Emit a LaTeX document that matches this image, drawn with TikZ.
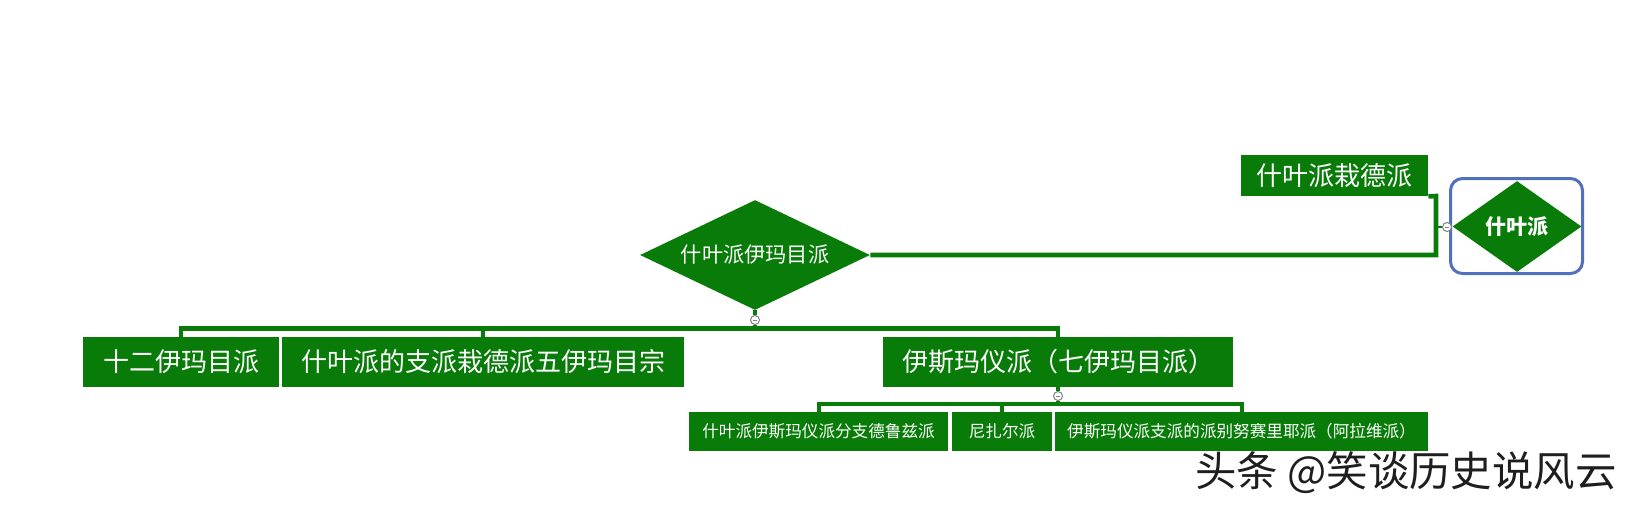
\documentclass[tikz,border=0pt]{standalone}
\usepackage{fontspec}
\newfontfamily\cjk{Noto Sans CJK SC}
\usetikzlibrary{shapes.geometric}
\definecolor{xg}{RGB}{8,123,8}
\definecolor{xb}{RGB}{82,112,188}
\definecolor{wm}{RGB}{30,30,30}
\begin{document}
\begin{tikzpicture}[x=0.5pt,y=-0.5pt,
  box/.style={fill=xg, text=white, inner sep=0pt, minimum height=25pt, font=\cjk\fontsize{13}{13}\selectfont},
  smallbox/.style={fill=xg, text=white, inner sep=0pt, minimum height=19.5pt, font=\cjk\fontsize{8.3}{9}\selectfont},
  dia/.style={diamond, fill=xg, text=white, inner sep=0pt},
  conn/.style={draw=xg, line width=2.3pt},
  thinconn/.style={draw=xg, line width=2pt},
  knob/.style={circle, draw=gray, fill=white, line width=0.5pt, minimum size=4.5pt, inner sep=0pt,
    path picture={\draw[gray, line width=0.4pt] ([xshift=1.1pt]path picture bounding box.west) -- ([xshift=-1.1pt]path picture bounding box.east);}}
]
\path[use as bounding box] (0,0) rectangle (1636,510);

% root
\node[draw=xb, line width=1.5pt, rounded corners=6pt, minimum width=66pt, minimum height=47.5pt, inner sep=0pt] (frame) at (1516.5,226) {};
\node[dia, aspect=1.42, minimum width=64.5pt, minimum height=45.5pt, font=\cjk\bfseries\fontsize{10.5}{11}\selectfont] (root) at (1517,226.5) {什叶派};
\node[knob] (kr) at (1447,227) {};

% first level
\node[box, minimum width=93.5pt, minimum height=20.5pt] (zy) at (1334.5,175.5) {什叶派栽德派};
\node[dia, aspect=2.09, minimum width=115pt, minimum height=55pt, font=\cjk\fontsize{10.6}{11}\selectfont] (bd) at (755,255) {什叶派伊玛目派};

\coordinate (jt) at (1436,196);
\coordinate (jm) at (1436,227);
\draw[conn] (zy.south east) -- (jt) |- (bd.east);
\draw[draw=xg, line width=1pt] (kr.west) -- (jm);

% second level
\node[box, minimum width=98pt] (b1) at (181,362) {十二伊玛目派};
\node[box, minimum width=201pt] (b2) at (483,362) {什叶派的支派栽德派五伊玛目宗};
\node[box, minimum width=175pt] (b3) at (1058,362) {伊斯玛仪派（七伊玛目派）};

\node[knob] (k1) at (755,320) {};
\coordinate (h1) at (755,329);
\coordinate (h2) at (483,329);
\draw[conn] (bd.south) -- (k1.north);
\draw[conn] (k1.south) -- (h1);
\draw[conn] (b1.north) -- ++(0,-8) -| (b3.north);
\draw[conn] (b2.north) -- (h2);

% third level
\node[smallbox, minimum width=129.5pt] (c1) at (818.5,431.5) {什叶派伊斯玛仪派分支德鲁兹派};
\node[smallbox, minimum width=50pt] (c2) at (1002,431.5) {尼扎尔派};
\node[smallbox, minimum width=186.5pt] (c3) at (1241.5,431.5) {伊斯玛仪派支派的派别努赛里耶派（阿拉维派）};

\node[knob] (k2) at (1058,396) {};
\coordinate (h3) at (1058,404);
\coordinate (h4) at (1002,404);
\draw[thinconn] (b3.south) -- (k2.north);
\draw[thinconn] (k2.south) -- (h3);
\draw[thinconn] (c1.north) -- ++(0,-8) -| (c3.north);
\draw[thinconn] (c2.north) -- (h4);

% watermark
\node[font=\cjk\fontsize{20.7}{21}\selectfont, text=wm, inner sep=0pt] (wmk) at (1406,473) {头条 @笑谈历史说风云};
\end{tikzpicture}
\end{document}
